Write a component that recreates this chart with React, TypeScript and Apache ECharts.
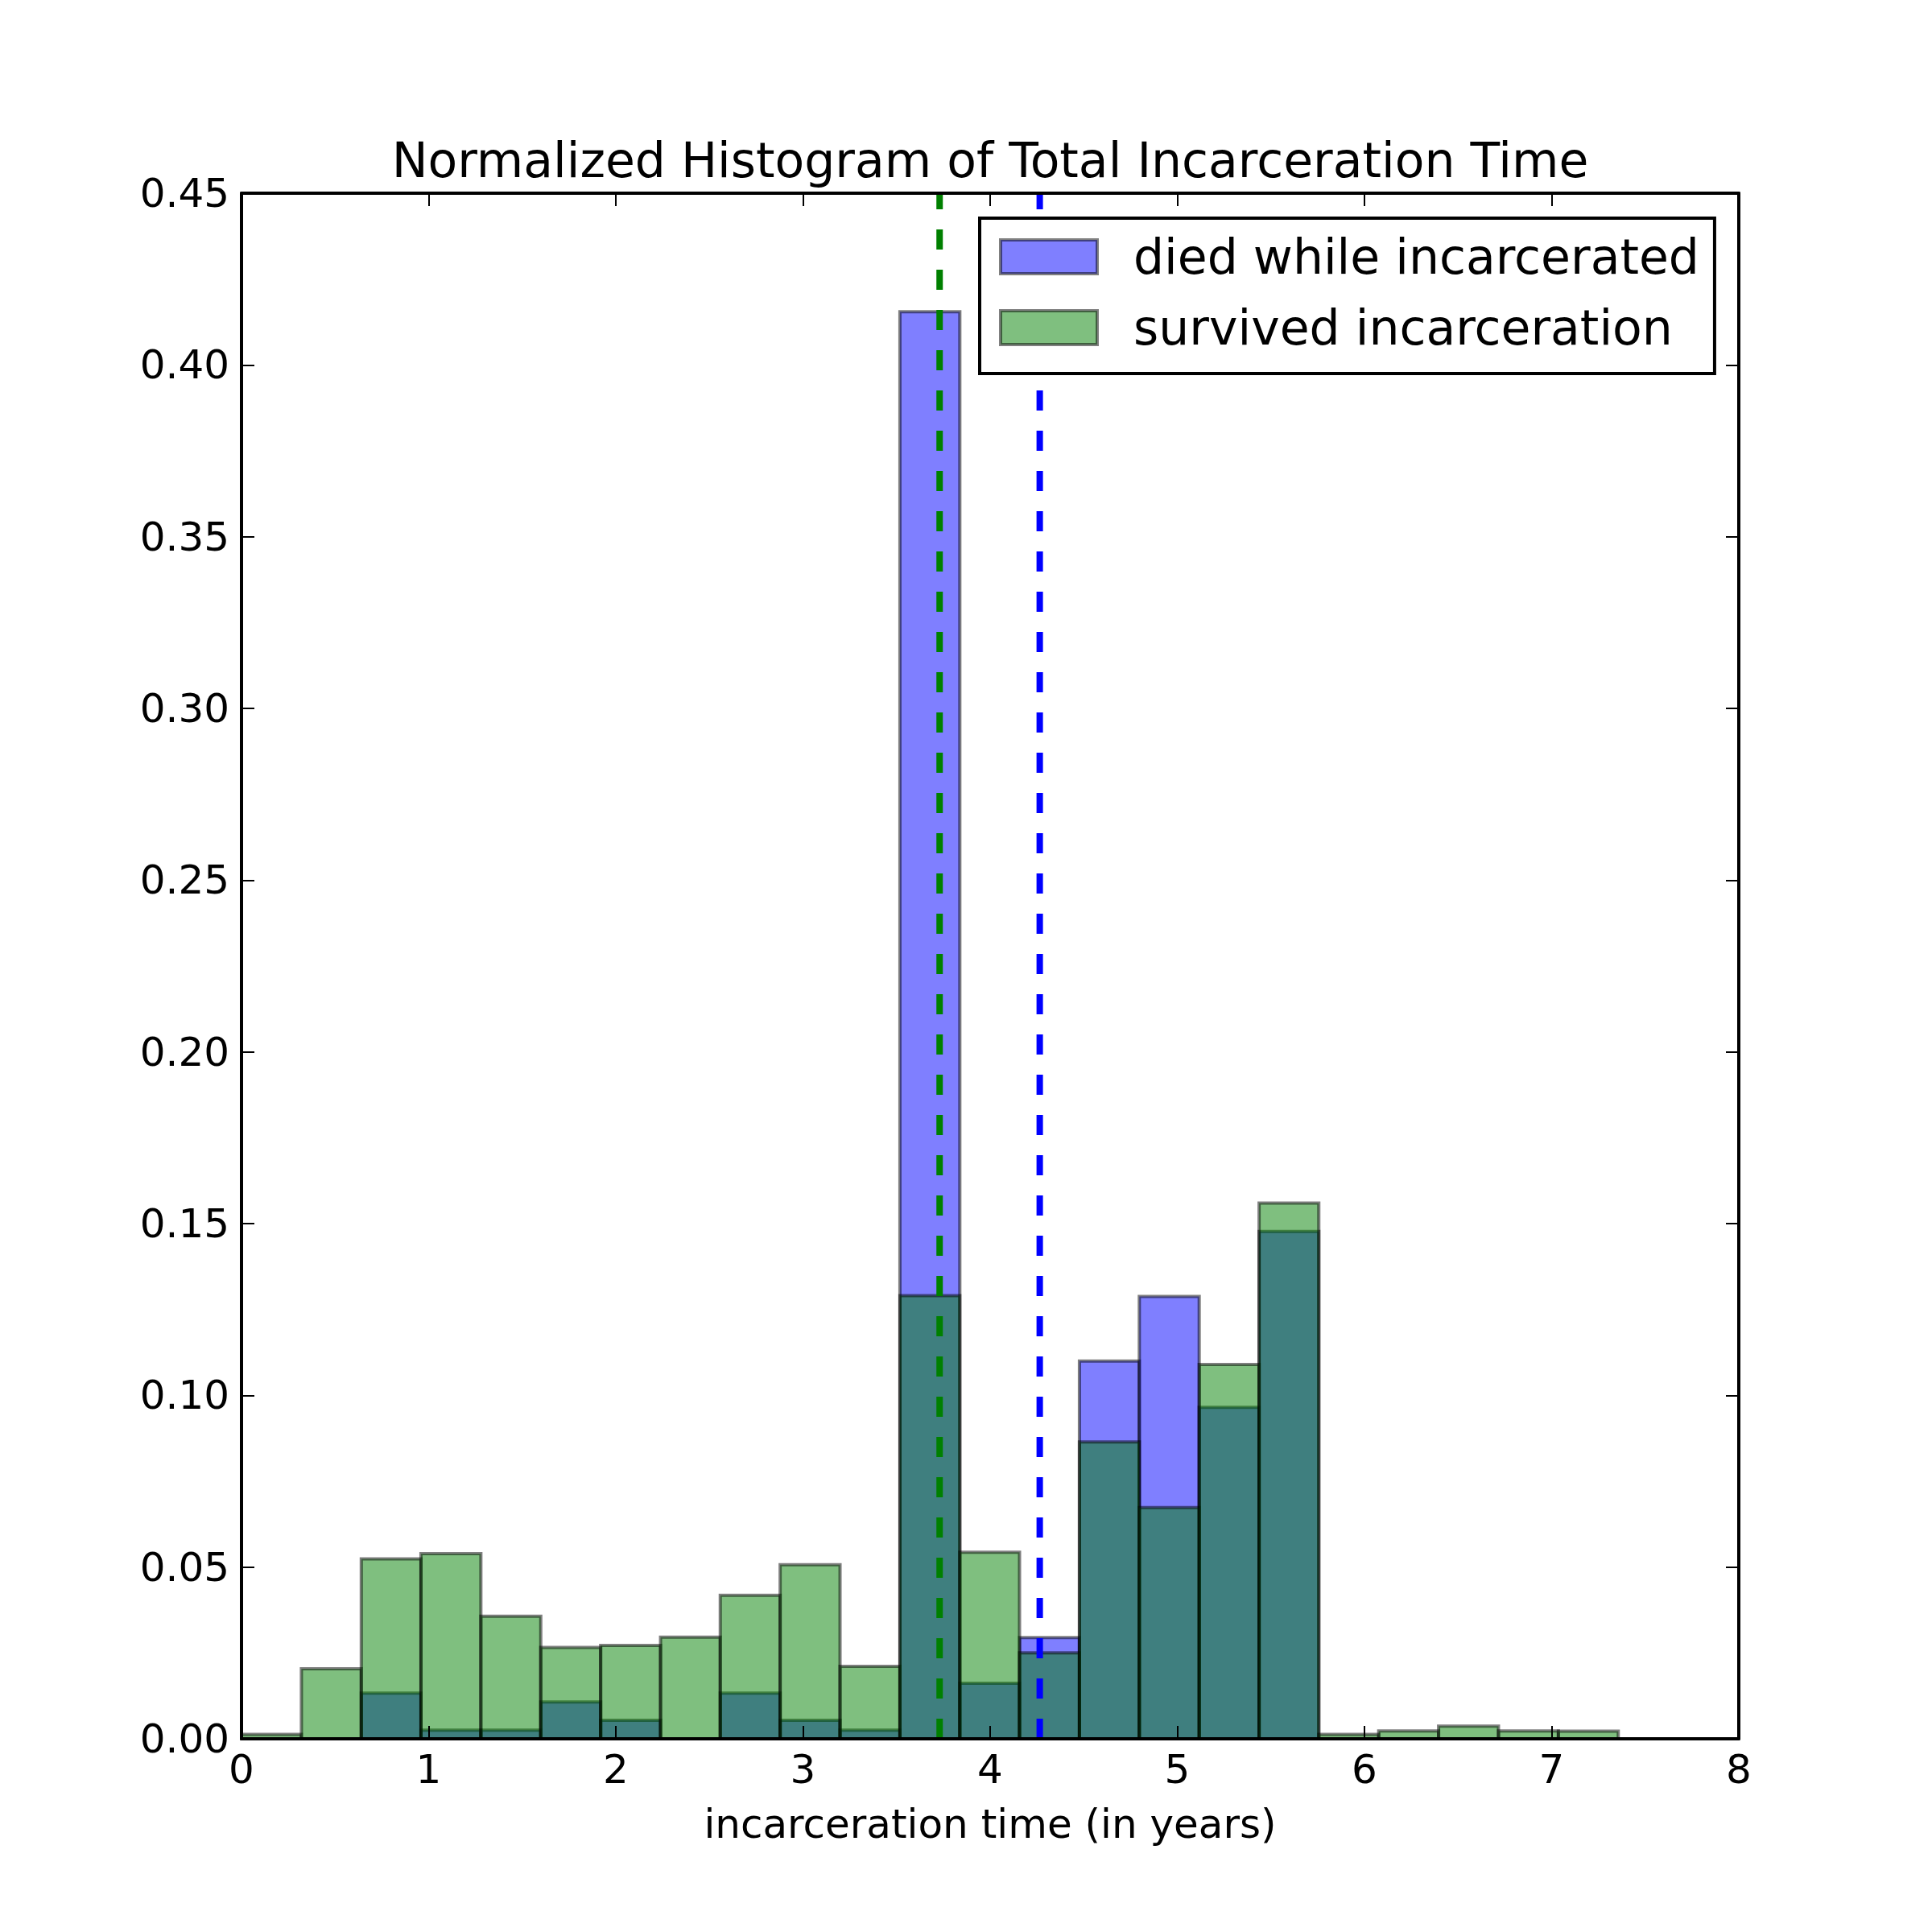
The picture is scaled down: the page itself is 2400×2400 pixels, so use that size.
import React, { useEffect, useRef } from "react";
import * as echarts from "echarts";

const FONT = "DejaVu Sans";

// Histogram bin edges (years)
const BIN_EDGES = [
  0, 0.32, 0.64, 0.959, 1.279, 1.599, 1.919, 2.239, 2.558, 2.878, 3.198, 3.518,
  3.838, 4.157, 4.477, 4.797, 5.117, 5.437, 5.756, 6.076, 6.396, 6.716, 7.036, 7.356,
];

// Normalized densities per bin
const DIED = [
  0, 0, 0.0133, 0.0025, 0.0025, 0.0107, 0.0054, 0, 0.0133, 0.0054, 0.0025, 0.4155,
  0.0162, 0.0295, 0.11, 0.1288, 0.0965, 0.1477, 0, 0, 0, 0, 0,
];
const SURVIVED = [
  0.0013, 0.0204, 0.0524, 0.0539, 0.0357, 0.0266, 0.0272, 0.0296, 0.0418, 0.0507,
  0.0211, 0.129, 0.0543, 0.025, 0.0864, 0.0673, 0.109, 0.156, 0.0013, 0.0023,
  0.0037, 0.0023, 0.0022,
];

// Means (vertical dashed lines)
const SURVIVED_MEAN = 3.73;
const DIED_MEAN = 4.265;

const X_TICKS = [0, 1, 2, 3, 4, 5, 6, 7, 8];
const Y_TICKS = [0, 0.05, 0.1, 0.15, 0.2, 0.25, 0.3, 0.35, 0.4, 0.45];

const TITLE = "Normalized Histogram of Total Incarceration Time";
const X_LABEL = "incarceration time (in years)";
const DIED_NAME = "died while incarcerated";
const SURV_NAME = "survived incarceration";

const DIED_FILL = "rgba(0,0,255,0.5)";
const SURV_FILL = "rgba(0,128,0,0.5)";
const EDGE = "rgba(0,0,0,0.5)";

function histData(values: number[]) {
  return values.map((v, i) => [BIN_EDGES[i], BIN_EDGES[i + 1], v]);
}

function makeRenderItem(fill: string) {
  return (params: any, api: any) => {
    const x0 = api.value(0);
    const x1 = api.value(1);
    const y = api.value(2);
    const p0 = api.coord([x0, y]);
    const p1 = api.coord([x1, 0]);
    return {
      type: "rect",
      shape: { x: p0[0], y: p0[1], width: p1[0] - p0[0], height: p1[1] - p0[1] },
      style: { fill, stroke: EDGE, lineWidth: 4 },
    };
  };
}

export default function App() {
  const ref = useRef<HTMLDivElement>(null);

  useEffect(() => {
    const chart = echarts.init(ref.current!, null, { renderer: "svg" });
    const axisCommon = {
      axisLine: { show: true, onZero: false, lineStyle: { color: "#000", width: 4 } },
      axisTick: { show: true, inside: true, length: 16, lineStyle: { color: "#000", width: 2 } },
      splitLine: { show: false },
      z: 10,
    };
    const option: any = {
      animation: false,
      backgroundColor: "#fff",
      title: {
        text: TITLE,
        left: 1230,
        top: 169,
        padding: 0,
        textAlign: "center",
        textStyle: { fontFamily: FONT, fontSize: 60, fontWeight: "normal", color: "#000", lineHeight: 60 },
      },
      grid: { left: 300, top: 240, width: 1860, height: 1920, containLabel: false },
      legend: {
        orient: "vertical",
        left: 1217,
        top: 271,
        padding: [18, 19, 27, 24],
        itemWidth: 120,
        itemHeight: 42,
        itemGap: 28,
        backgroundColor: "#fff",
        borderColor: "#000",
        borderWidth: 4,
        borderRadius: 0,
        icon: "rect",
        selectedMode: false,
        textStyle: { fontFamily: FONT, fontSize: 60, color: "#000", lineHeight: 60, padding: [0, 0, 0, 40] },
        data: [
          { name: DIED_NAME, itemStyle: { color: DIED_FILL, borderColor: EDGE, borderWidth: 4 } },
          { name: SURV_NAME, itemStyle: { color: SURV_FILL, borderColor: EDGE, borderWidth: 4 } },
        ],
        z: 20,
      },
      xAxis: [
        {
          type: "value",
          min: X_TICKS[0],
          max: X_TICKS[X_TICKS.length - 1],
          interval: 1,
          position: "bottom",
          ...axisCommon,
          axisLabel: {
            show: true,
            margin: 13,
            fontFamily: FONT,
            fontSize: 50,
            lineHeight: 50,
            color: "#000",
            formatter: (v: number) => String(v),
          },
          name: X_LABEL,
          nameLocation: "middle",
          nameGap: 81,
          nameTextStyle: { fontFamily: FONT, fontSize: 50, lineHeight: 50, color: "#000" },
        },
        {
          type: "value",
          min: X_TICKS[0],
          max: X_TICKS[X_TICKS.length - 1],
          interval: 1,
          position: "top",
          ...axisCommon,
          axisLabel: { show: false },
        },
      ],
      yAxis: [
        {
          type: "value",
          min: Y_TICKS[0],
          max: Y_TICKS[Y_TICKS.length - 1],
          interval: 0.05,
          position: "left",
          ...axisCommon,
          axisLabel: {
            show: true,
            margin: 15,
            fontFamily: FONT,
            fontSize: 50,
            lineHeight: 50,
            color: "#000",
            padding: [0, 0, 6, 0],
            formatter: (v: number) => v.toFixed(2),
          },
        },
        {
          type: "value",
          min: Y_TICKS[0],
          max: Y_TICKS[Y_TICKS.length - 1],
          interval: 0.05,
          position: "right",
          ...axisCommon,
          axisLabel: { show: false },
        },
      ],
      series: [
        {
          name: DIED_NAME,
          type: "custom",
          xAxisIndex: 0,
          yAxisIndex: 0,
          itemStyle: { color: DIED_FILL, borderColor: EDGE, borderWidth: 4 },
          renderItem: makeRenderItem(DIED_FILL),
          encode: { x: [0, 1], y: 2 },
          data: histData(DIED),
          z: 2,
        },
        {
          name: SURV_NAME,
          type: "custom",
          xAxisIndex: 0,
          yAxisIndex: 0,
          itemStyle: { color: SURV_FILL, borderColor: EDGE, borderWidth: 4 },
          renderItem: makeRenderItem(SURV_FILL),
          encode: { x: [0, 1], y: 2 },
          data: histData(SURVIVED),
          z: 3,
        },
        {
          name: "survived mean",
          type: "line",
          xAxisIndex: 0,
          yAxisIndex: 0,
          symbol: "none",
          silent: true,
          lineStyle: { color: "#008000", width: 8, type: [25, 25], cap: "butt" },
          data: [
            [SURVIVED_MEAN, Y_TICKS[0]],
            [SURVIVED_MEAN, Y_TICKS[Y_TICKS.length - 1]],
          ],
          z: 5,
        },
        {
          name: "died mean",
          type: "line",
          xAxisIndex: 0,
          yAxisIndex: 0,
          symbol: "none",
          silent: true,
          lineStyle: { color: "#0000ff", width: 8, type: [25, 25], cap: "butt" },
          data: [
            [DIED_MEAN, Y_TICKS[0]],
            [DIED_MEAN, Y_TICKS[Y_TICKS.length - 1]],
          ],
          z: 5,
        },
      ],
    };
    chart.setOption(option);
    return () => chart.dispose();
  }, []);

  return (
    <div
      ref={ref}
      style={{ position: "absolute", left: 0, top: 0, width: 2400, height: 2400, background: "#fff" }}
    />
  );
}
